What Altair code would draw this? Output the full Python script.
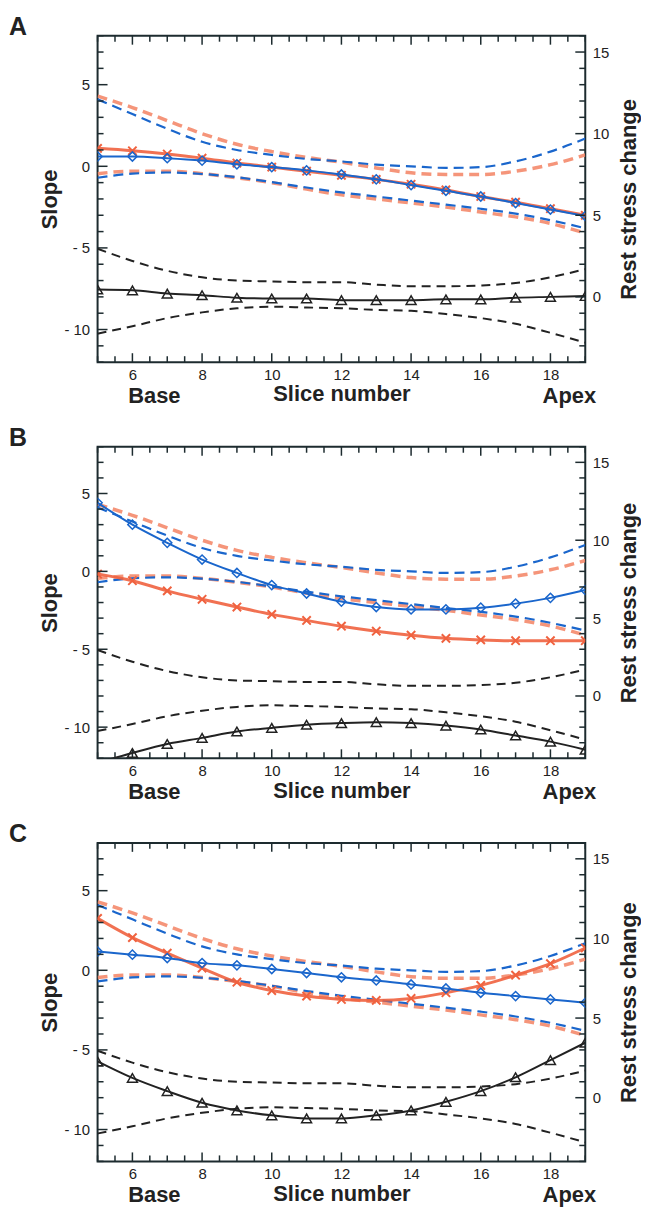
import altair as alt
import pandas as pd

# ---------------- data ----------------
X = list(range(5, 20))  # slice numbers

# reference bands, slope units (left axis) - identical in all panels
BLUE_UP = [4.1, 3.2, 2.3, 1.5, 1.0, 0.7, 0.45, 0.3, 0.1, 0.0, -0.1, -0.05, 0.3, 0.9, 1.7]
BLUE_LO = [-0.7, -0.45, -0.38, -0.47, -0.67, -0.97, -1.3, -1.6, -1.85, -2.1, -2.35, -2.6, -2.9, -3.3, -3.8]
ORANGE_UP = [4.3, 3.6, 2.8, 2.0, 1.35, 0.9, 0.55, 0.25, -0.1, -0.4, -0.5, -0.5, -0.3, 0.1, 0.7]
ORANGE_LO = [-0.45, -0.3, -0.3, -0.45, -0.7, -1.0, -1.4, -1.75, -2.0, -2.25, -2.5, -2.8, -3.1, -3.5, -4.1]
# reference band, rest stress change units (right axis)
BLACK_UP = [2.95, 2.2, 1.6, 1.2, 1.0, 0.95, 0.9, 0.9, 0.75, 0.65, 0.65, 0.7, 0.85, 1.2, 1.7]
BLACK_LO = [-2.25, -1.8, -1.3, -0.95, -0.7, -0.6, -0.65, -0.7, -0.8, -0.85, -1.05, -1.3, -1.65, -2.2, -2.8]

# panel A
A_BLUE = [0.6, 0.6, 0.5, 0.35, 0.12, -0.05, -0.25, -0.5, -0.8, -1.15, -1.5, -1.85, -2.25, -2.65, -3.05]
A_ORANGE = [1.1, 0.95, 0.75, 0.5, 0.2, -0.05, -0.3, -0.55, -0.8, -1.1, -1.45, -1.85, -2.2, -2.6, -3.0]
A_BLACK = [0.45, 0.4, 0.2, 0.1, -0.05, -0.1, -0.1, -0.2, -0.2, -0.2, -0.15, -0.15, -0.05, 0.0, 0.05]
# panel B
B_BLUE = [4.4, 3.0, 1.83, 0.76, -0.1, -0.88, -1.42, -1.94, -2.29, -2.44, -2.44, -2.33, -2.07, -1.7, -1.2]
B_ORANGE = [-0.17, -0.6, -1.25, -1.79, -2.29, -2.76, -3.15, -3.52, -3.84, -4.1, -4.3, -4.4, -4.45, -4.45, -4.45]
B_BLACK = [-4.3, -3.66, -3.08, -2.69, -2.28, -2.05, -1.85, -1.74, -1.68, -1.74, -1.9, -2.15, -2.54, -2.93, -3.45]
# panel C
C_BLUE = [1.18, 0.98, 0.77, 0.45, 0.31, 0.08, -0.17, -0.44, -0.64, -0.89, -1.14, -1.41, -1.62, -1.83, -2.04]
C_ORANGE = [3.26, 2.05, 1.08, 0.14, -0.75, -1.27, -1.62, -1.83, -1.89, -1.77, -1.41, -0.95, -0.31, 0.42, 1.4]
C_BLACK = [2.28, 1.24, 0.41, -0.32, -0.8, -1.11, -1.3, -1.3, -1.11, -0.8, -0.26, 0.41, 1.28, 2.36, 3.45]

X_LABELS = [6, 8, 10, 12, 14, 16, 18]
LEFT_LABELS = [-10, -5, 0, 5]
RIGHT_LABELS = [0, 5, 10, 15]
X_TICKS = [5 + 0.5 * i for i in range(29)]
LEFT_TICKS = list(range(-12, 9))
RIGHT_TICKS = list(range(-4, 17))

# ---------------- style ----------------
FONT = "Liberation Sans"
FRAME = "#1d2b2f"
TXT = "#222222"
BLUE = "#1a66cc"
ORANGE = "#f0623f"
ORANGE_D = "#f4896b"
BLACK = "#222222"
W = 490


def df(vals):
    return pd.DataFrame({"x": X, "v": vals})


def panel(letter, H, blue, orange, black):
    xs = alt.X("x:Q", scale=alt.Scale(domain=[5, 19], nice=False, zero=False),
               axis=alt.Axis(values=X_LABELS, ticks=False, tickSize=0, domain=False, grid=False,
                             labelFontSize=15, labelPadding=5, labelColor=TXT,
                             title="Slice number", titleFontSize=22, titleFontWeight="bold",
                             titlePadding=2, titleColor=TXT))
    yL = alt.Y("v:Q", scale=alt.Scale(domain=[-12, 8], nice=False, zero=False),
               axis=alt.Axis(values=LEFT_LABELS, ticks=False, tickSize=0, domain=False, grid=False,
                             labelExpr="datum.value < 0 ? '- ' + abs(datum.value) : datum.label",
                             labelFontSize=15, labelPadding=8, labelColor=TXT,
                             title="Slope", titleFontSize=22, titleFontWeight="bold",
                             titlePadding=2, titleColor=TXT))
    yR = alt.Y("v:Q", scale=alt.Scale(domain=[-4, 16], nice=False, zero=False),
               axis=alt.Axis(orient="right", values=RIGHT_LABELS, ticks=False, tickSize=0,
                             domain=False, grid=False, labelFontSize=15, labelPadding=7,
                             labelColor=TXT, title="Rest stress change", titleFontSize=22,
                             titleFontWeight="bold", titleAngle=270, titleBaseline="top",
                             titlePadding=10, titleColor=TXT))

    def line(vals, y, color, w, dash=None, op=1.0):
        kw = dict(color=color, strokeWidth=w, interpolate="monotone", clip=True, opacity=op)
        if dash:
            kw["strokeDash"] = dash
        return alt.Chart(df(vals)).mark_line(**kw).encode(x=xs, y=y)

    def pts(vals, y, shape, color, size, sw):
        return alt.Chart(df(vals)).mark_point(shape=shape, filled=False, color=color, size=size,
                                              strokeWidth=sw, clip=True, opacity=1).encode(x=xs, y=y)

    def xticks(vals, H, L, top):
        d = pd.DataFrame({"x": vals})
        if top:
            return alt.Chart(d).mark_rule(color=FRAME, strokeWidth=1.5).encode(
                x=xs, y=alt.value(0), y2=alt.value(L))
        return alt.Chart(d).mark_rule(color=FRAME, strokeWidth=1.5).encode(
            x=xs, y=alt.value(H), y2=alt.value(H - L))

    def yticks(vals, y, L, right):
        d = pd.DataFrame({"v": vals})
        if right:
            return alt.Chart(d).mark_rule(color=FRAME, strokeWidth=1.5).encode(
                y=y, x=alt.value(W), x2=alt.value(W - L))
        return alt.Chart(d).mark_rule(color=FRAME, strokeWidth=1.5).encode(
            y=y, x=alt.value(0), x2=alt.value(L))

    major_x = [t for t in X_TICKS if t in X_LABELS]
    minor_x = [t for t in X_TICKS if t not in X_LABELS]
    major_l = [t for t in LEFT_TICKS if t in LEFT_LABELS]
    minor_l = [t for t in LEFT_TICKS if t not in LEFT_LABELS]
    major_r = [t for t in RIGHT_TICKS if t in RIGHT_LABELS]
    minor_r = [t for t in RIGHT_TICKS if t not in RIGHT_LABELS]

    cross = "M-1,-1L1,1M-1,1L1,-1"
    lab = pd.DataFrame({"t": [letter]})
    letter_txt = alt.Chart(lab).mark_text(align="left", baseline="alphabetic", fontSize=25,
                                          fontWeight="bold", color=TXT, font=FONT).encode(
        x=alt.value(-89), y=alt.value(-1), text="t:N")
    base_txt = alt.Chart(pd.DataFrame({"t": ["Base"]})).mark_text(
        align="center", baseline="middle", fontSize=22, fontWeight="bold", color=TXT, font=FONT
    ).encode(x=alt.value(57), y=alt.value(H + 34), text="t:N")
    apex_txt = alt.Chart(pd.DataFrame({"t": ["Apex"]})).mark_text(
        align="center", baseline="middle", fontSize=22, fontWeight="bold", color=TXT, font=FONT
    ).encode(x=alt.value(474), y=alt.value(H + 34), text="t:N")

    left = alt.layer(
        line(ORANGE_UP, yL, ORANGE_D, 3.5, [10, 6], 0.9),
        line(ORANGE_LO, yL, ORANGE_D, 3.5, [10, 6], 0.9),
        line(BLUE_UP, yL, BLUE, 2.2, [10, 6]),
        line(BLUE_LO, yL, BLUE, 2.2, [10, 6]),
        line(orange, yL, ORANGE, 3, None, 0.9),
        pts(orange, yL, cross, ORANGE, 70, 2),
        line(blue, yL, BLUE, 2),
        pts(blue, yL, "diamond", BLUE, 85, 1.5),
        xticks(major_x, H, 9, False), xticks(minor_x, H, 6, False),
        xticks(major_x, H, 9, True), xticks(minor_x, H, 6, True),
        yticks(major_l, yL, 10, False), yticks(minor_l, yL, 6, False),
        letter_txt, base_txt, apex_txt,
    )
    right = alt.layer(
        line(BLACK_UP, yR, BLACK, 2, [9, 6]),
        line(BLACK_LO, yR, BLACK, 2, [9, 6]),
        line(black, yR, BLACK, 2),
        pts(black, yR, "triangle-up", BLACK, 100, 1.5),
        yticks(major_r, yR, 10, True), yticks(minor_r, yR, 6, True),
    )
    return alt.layer(left, right).resolve_scale(y="independent").properties(width=W, height=H)


chart = alt.vconcat(
    panel("A", 328, A_BLUE, A_ORANGE, A_BLACK),
    panel("B", 313, B_BLUE, B_ORANGE, B_BLACK),
    panel("C", 320, C_BLUE, C_ORANGE, C_BLACK),
    spacing=17,
).properties(padding={"left": 0, "top": 3, "right": 0, "bottom": 0}).configure(
    font=FONT).configure_view(stroke=FRAME, strokeWidth=2)

chart.save("out.html", embed_options={"renderer": "svg", "actions": False})
